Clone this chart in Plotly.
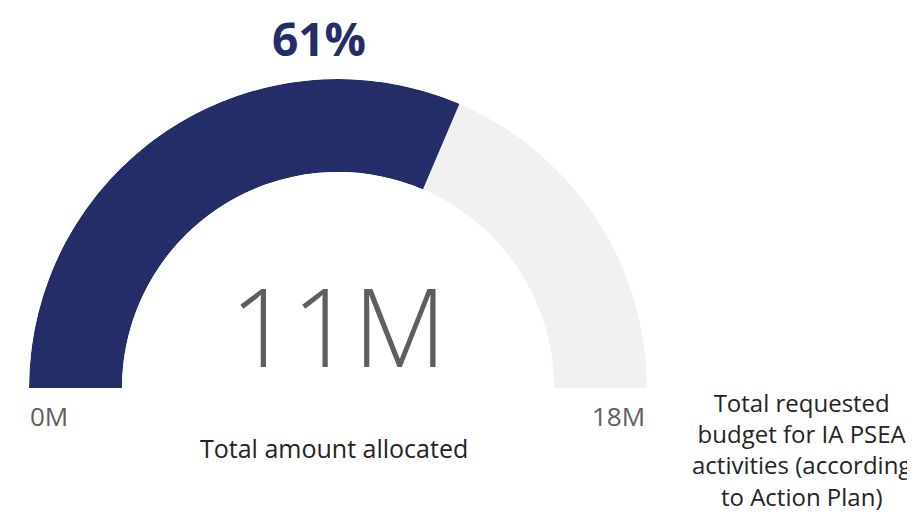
import plotly.graph_objects as go

# ---- data (millions) ----
allocated = 11.0          # Total amount allocated
gauge_min = 0.0
gauge_max = 17.5          # gauge maximum (shown rounded as 18M)
requested_budget = 18.0   # Total requested budget (target)
value_label = "Total amount allocated"
target_lines = ["Total requested", "budget for IA PSEA", "activities (according", "to Action Plan)"]

OFF = 8                    # page body margin
W, H = 915 - OFF, 531 - OFF
NAVY = "#252D69"
TRACK = "#F2F1F0"
GRAY = "#605E5C"
DARK = "#252423"
FONT = "Segoe UI, Open Sans, Noto Sans, sans-serif"

frac = (allocated - gauge_min) / (gauge_max - gauge_min)
pct = round(allocated / requested_budget * 100)

fig = go.Figure()
fig.add_trace(go.Barpolar(r=[1], theta=[90], width=[180],
                          marker=dict(color=TRACK, line=dict(width=0)),
                          hoverinfo="skip"))
fig.add_trace(go.Barpolar(r=[1], theta=[frac * 180 / 2], width=[frac * 180],
                          marker=dict(color=NAVY, line=dict(width=0)),
                          hoverinfo="skip"))

def px(x):
    return (x - OFF) / W

def py(y):
    return 1 - (y - OFF) / H

fig.update_layout(
    width=W, height=H, autosize=False,
    margin=dict(l=0, r=0, t=0, b=0),
    paper_bgcolor="white", plot_bgcolor="white",
    showlegend=False,
    polar=dict(
        domain=dict(x=[px(29), px(647)], y=[py(388), py(79)]),
        sector=[0, 180], hole=216 / 309,
        bgcolor="rgba(0,0,0,0)",
        radialaxis=dict(visible=False, range=[0, 1], showgrid=False),
        angularaxis=dict(visible=False, direction="clockwise", rotation=180,
                         showgrid=False, thetaunit="degrees"),
    ),
)

ann = [
    dict(text=f"<b>{pct}%</b>", x=px(319), y=py(38), font=dict(size=46, color=NAVY)),
    dict(text=f"{allocated:.0f}M", x=px(338), y=py(325), font=dict(size=108, color=GRAY, weight=300)),
    dict(text=f"{gauge_min:.0f}M", x=px(49), y=py(416), font=dict(size=26, color=GRAY)),
    dict(text=f"{gauge_max:.0f}M", x=px(618), y=py(416), font=dict(size=26, color=GRAY)),
    dict(text=value_label, x=px(334), y=py(448), font=dict(size=25, color=DARK)),
    dict(text="<br>".join(target_lines), x=px(801), y=py(449), align="center",
         font=dict(size=24, color=DARK)),
]
for a in ann:
    a.update(xref="paper", yref="paper", showarrow=False, xanchor="center", yanchor="middle")
    a["font"]["family"] = FONT
fig.update_layout(annotations=ann)

fig.write_html("out.html", config={"displayModeBar": False})
